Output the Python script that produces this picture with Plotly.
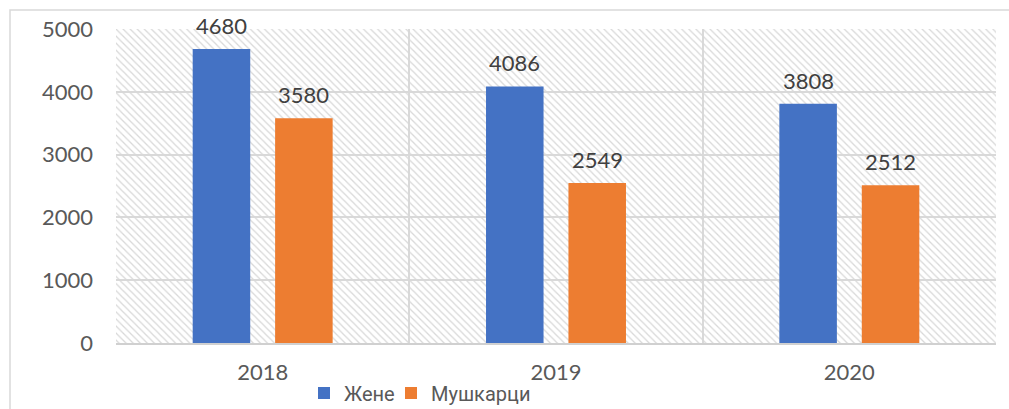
import plotly.graph_objects as go

years = ["2018", "2019", "2020"]
zhene = [4680, 4086, 3808]
mushkarci = [3580, 2549, 2512]
series_names = ["Жене", "Мушкарци"]
colors = ["#4472C4", "#ED7D31"]

W, H = 1009, 409
ML, MR, MT, MB = 116, 13, 29, 66
PW = W - ML - MR
PH = H - MT - MB
BARGAP = 0.438
BARGROUPGAP = 0.302
FONT = "Lato, 'Open Sans', sans-serif"
LFONT = "Roboto, 'Open Sans', sans-serif"
FS = 22

fig = go.Figure()

# hatched plot-area background
fig.add_trace(go.Bar(
    x=[years[1]], y=[5000], width=[3], offset=[-1.5],
    marker=dict(color="rgba(0,0,0,0)", line=dict(width=0),
                pattern=dict(shape="\\", fgcolor="#d8d8d8", bgcolor="rgba(0,0,0,0)",
                             size=5, solidity=0.25, fillmode="replace")),
    showlegend=False, hoverinfo="skip",
))

legend_ids = ["legend", "legend2"]
for name, vals, col, lg in zip(series_names, [zhene, mushkarci], colors, legend_ids):
    fig.add_trace(go.Bar(x=years, y=vals, name=name, legend=lg,
                         marker=dict(color=col, line=dict(width=0))))

# data labels above bars
slot = (1 - BARGAP) / 2
cat_px = PW / len(years)
for i, vals in enumerate([zhene, mushkarci]):
    shift = (-slot / 2 if i == 0 else slot / 2) * cat_px
    for idx, v in enumerate(vals):
        fig.add_annotation(x=idx, y=v, text=str(v), showarrow=False, yanchor="bottom",
                           xshift=shift, yshift=8,
                           font=dict(family=FONT, size=FS, color="#404040"))

# outer chart-area border (partly outside view)
fig.add_shape(type="rect", xref="paper", yref="paper",
              x0=(10 - ML) / PW, x1=(W + 5 - ML) / PW,
              y0=(H - MB - (H + 5)) / PH, y1=(H - MB - 10) / PH,
              line=dict(color="#d9d9d9", width=1.5), fillcolor="rgba(0,0,0,0)", layer="below")

leg_common = dict(orientation="h", xanchor="left", y=-0.159, yanchor="middle",
                  font=dict(family=LFONT, size=20, color="#595959"), bgcolor="rgba(0,0,0,0)")

fig.update_layout(
    width=W, height=H,
    margin=dict(l=ML, r=MR, t=MT, b=MB, autoexpand=False),
    paper_bgcolor="white", plot_bgcolor="white",
    barmode="group", bargap=BARGAP, bargroupgap=BARGROUPGAP,
    font=dict(family=FONT, size=FS, color="#595959"),
    showlegend=True,
    legend=dict(x=(304 - ML) / PW, **leg_common),
    legend2=dict(x=(391 - ML) / PW, **leg_common),
    xaxis=dict(type="category", categoryorder="array", categoryarray=years,
               range=[-0.5, 2.5], tickson="boundaries", showgrid=True,
               gridcolor="#d9d9d9", gridwidth=1.5, ticks="", ticklabelstandoff=9,
               showline=True, linecolor="#d0d0d0", linewidth=2, mirror=False,
               tickfont=dict(family=FONT, size=FS, color="#595959")),
    yaxis=dict(range=[0, 5000], dtick=1000, showgrid=True, gridcolor="#d9d9d9", gridwidth=1.5,
               zeroline=False, ticks="", ticklabelstandoff=22, showline=False,
               tickfont=dict(family=FONT, size=FS, color="#595959")),
)

fig.write_html("out.html", config={"displayModeBar": False},
               post_script="document.body.style.margin='0';document.body.style.overflow='hidden';")
